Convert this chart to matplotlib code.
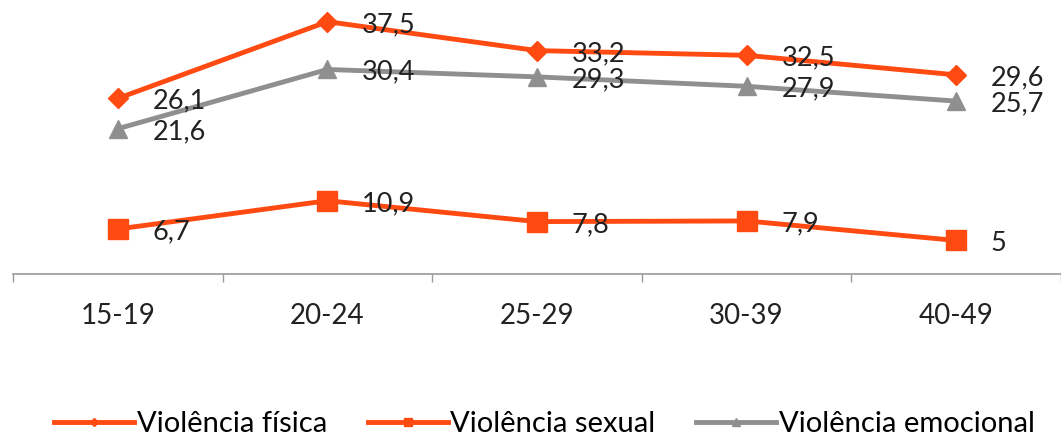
import matplotlib.pyplot as plt
import numpy as np

# Faixas etárias e percentuais por tipo de violência
faixas = ['15-19', '20-24', '25-29', '30-39', '40-49']
fisica = [26.1, 37.5, 33.2, 32.5, 29.6]
sexual = [6.7, 10.9, 7.8, 7.9, 5]
emocional = [21.6, 30.4, 29.3, 27.9, 25.7]

laranja = '#ff4a12'
cinza = '#8f8f8f'

plt.rcParams['font.family'] = ['Lato', 'DejaVu Sans']

fig = plt.figure(figsize=(10.61, 4.4), dpi=100)
ax = fig.add_axes([0.0123, 0.377, 0.9877, 0.612])

x = np.arange(len(faixas))
series = [
    ('Violência física', fisica, laranja, 'D', 10),
    ('Violência sexual', sexual, laranja, 's', 15),
    ('Violência emocional', emocional, cinza, '^', 13),
]
for nome, vals, cor, mk, ms in series:
    ax.plot(x, vals, color=cor, lw=3.5, marker=mk, markersize=ms,
            label=nome, zorder=3)
    for xi, v in zip(x, vals):
        txt = f'{v:g}'.replace('.', ',')
        ax.annotate(txt, (xi, v), xytext=(25, -2), textcoords='offset points',
                    ha='left', va='center', fontsize=19.5, color='#222222',
                    zorder=4)

ax.set_xlim(-0.5, len(faixas) - 0.5)
ax.set_ylim(0, 40)
ax.set_yticks([])
for lado in ['top', 'right', 'left']:
    ax.spines[lado].set_visible(False)
ax.spines['bottom'].set_color('#9a9a9a')
ax.spines['bottom'].set_linewidth(1.2)

# rótulos no centro das categorias, marcas nas divisões
ax.set_xticks(x)
ax.set_xticklabels(faixas, fontsize=20, color='#222222')
ax.tick_params(axis='x', which='major', length=0, pad=21)
ax.set_xticks(np.arange(-0.5, len(faixas)), minor=True)
ax.tick_params(axis='x', which='minor', length=6, color='#9a9a9a', width=1)

fig.legend(loc='center', bbox_to_anchor=(0.513, 0.036), ncol=3, frameon=False,
           fontsize=21, handlelength=2.75, columnspacing=1.4, markerscale=0.4,
           handletextpad=0.08)

fig.savefig('out.png', dpi=100)
